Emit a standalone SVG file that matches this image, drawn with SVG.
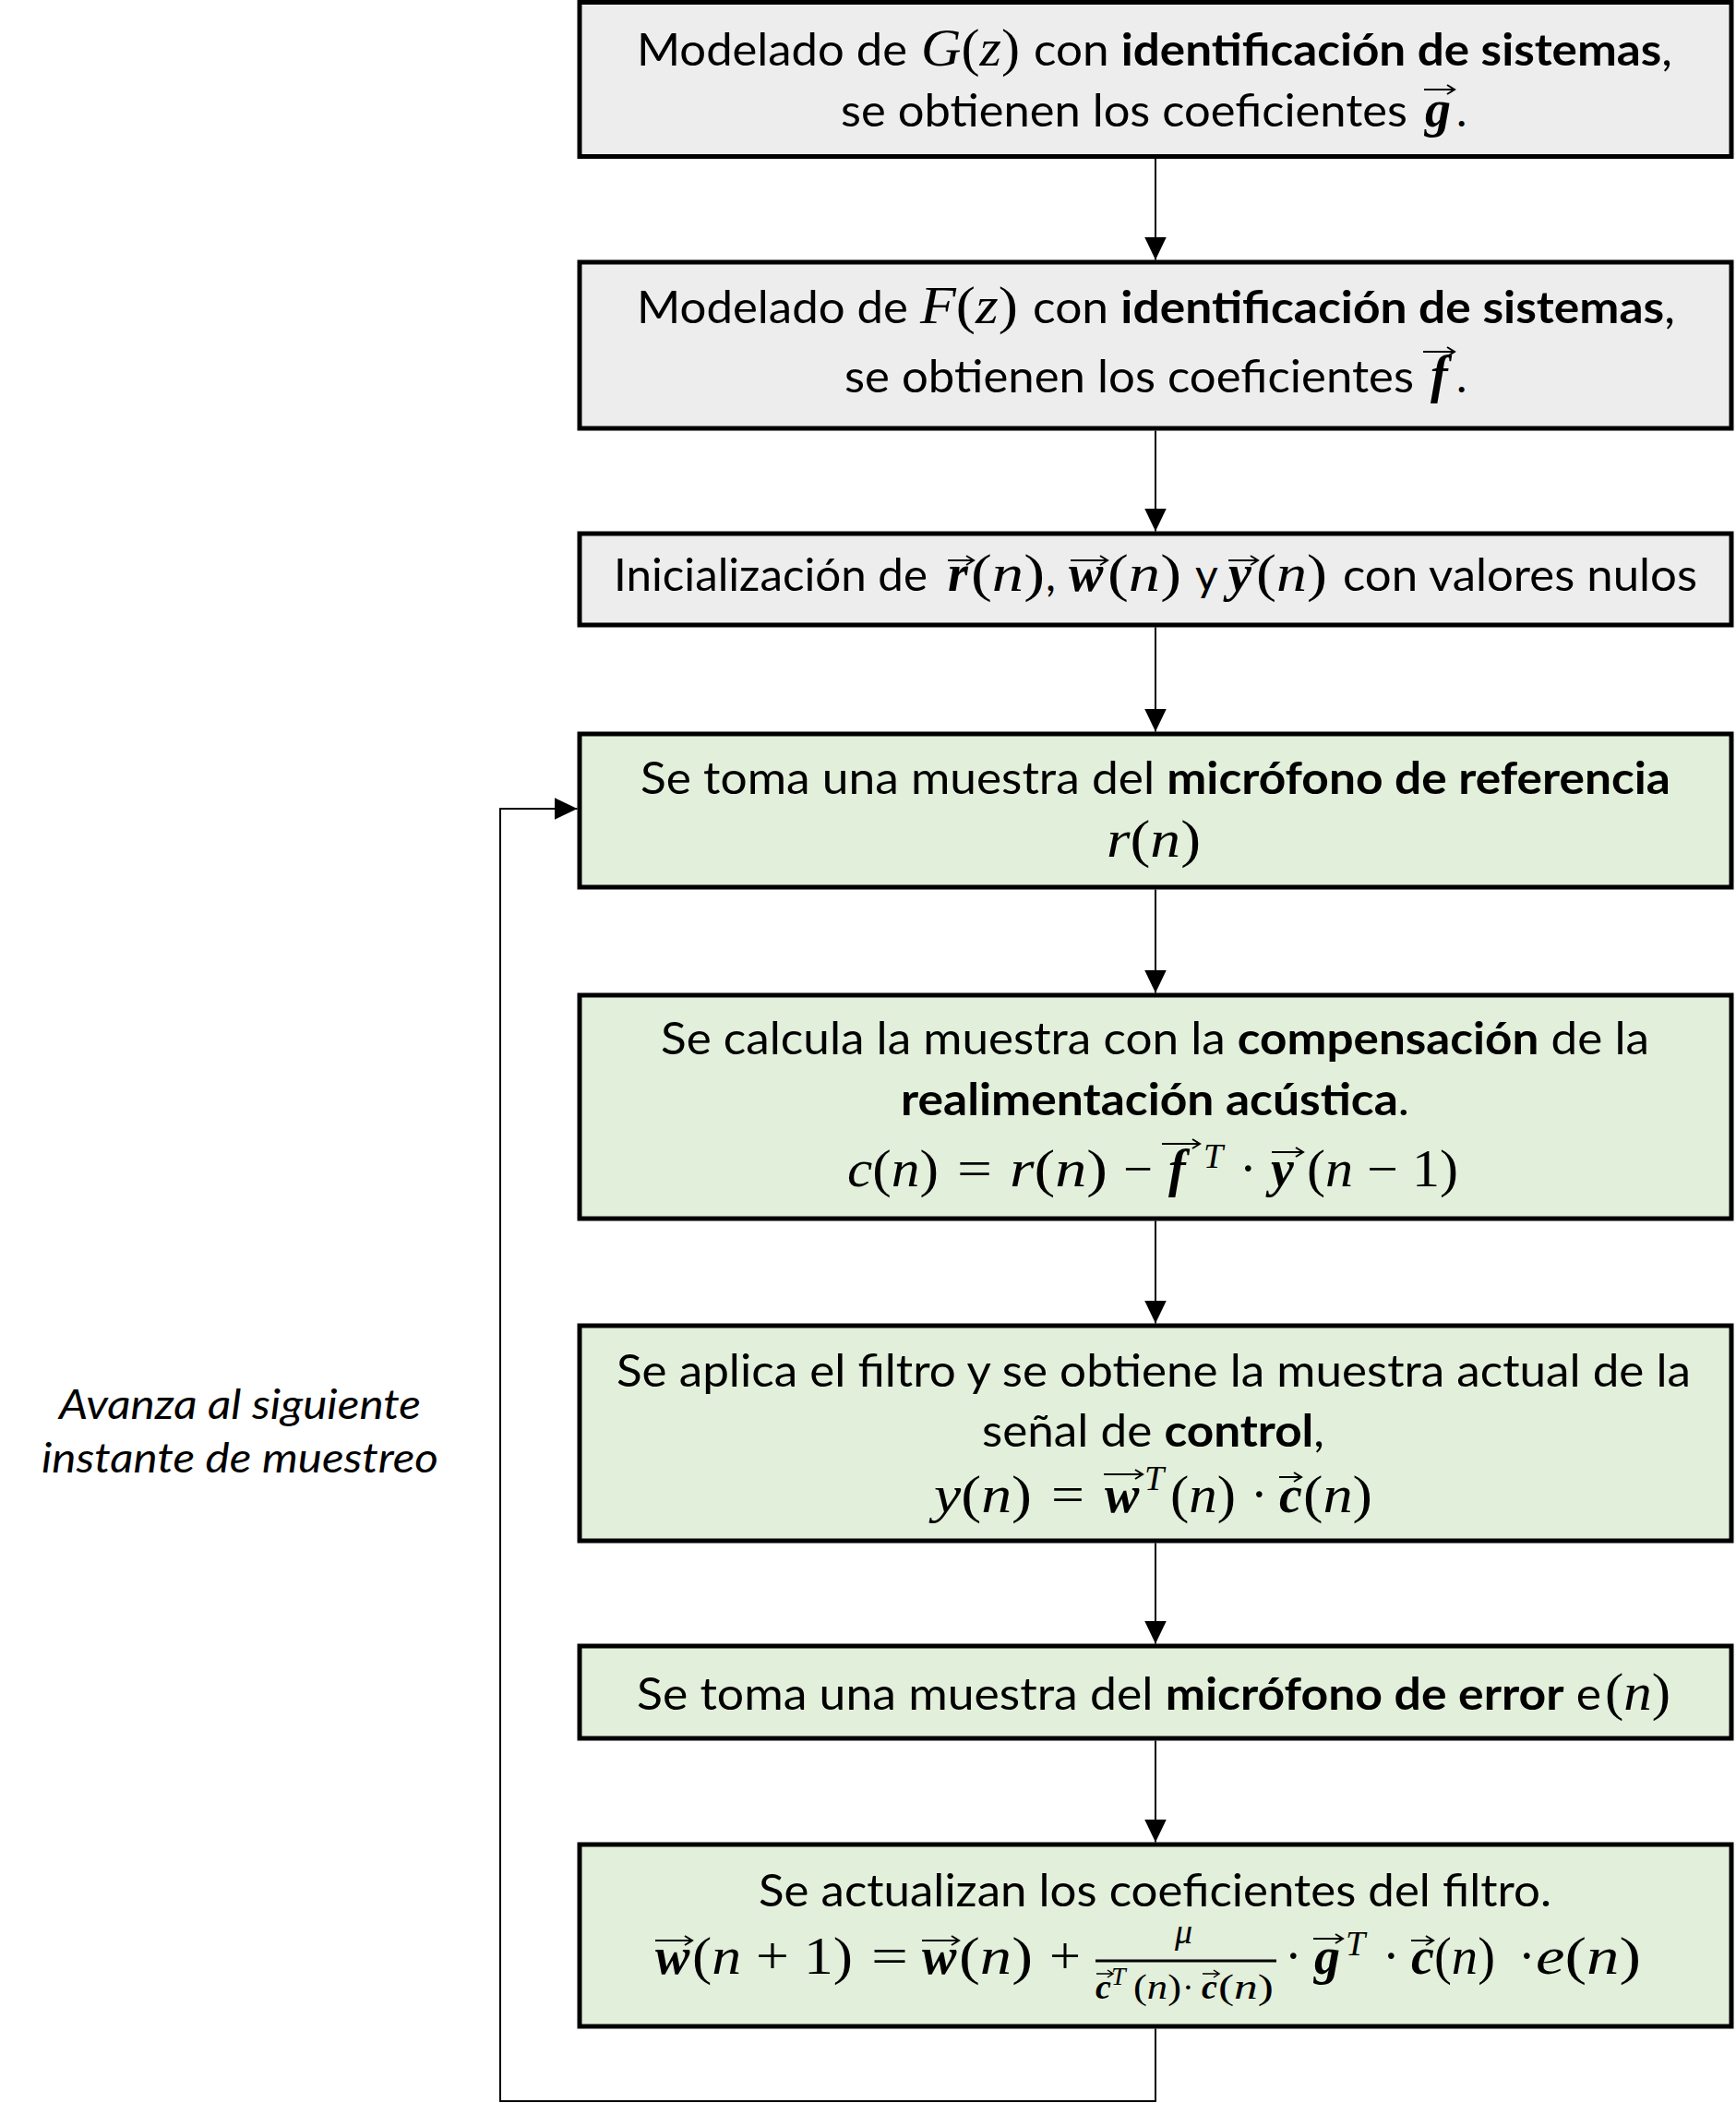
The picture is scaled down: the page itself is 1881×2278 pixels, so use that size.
<svg xmlns="http://www.w3.org/2000/svg" width="1881" height="2278" viewBox="0 0 1881 2278">
<style>
.bg{fill:#EDEDED;stroke:#000;stroke-width:5}
.bv{fill:#E2EFDA;stroke:#000;stroke-width:5}
.t{font-family:Lato,"Open Sans","Liberation Sans",sans-serif;font-size:48px;fill:#000}
.b{font-weight:700}
.m{font-family:"Liberation Serif","DejaVu Serif",serif;font-size:56px;font-style:italic;fill:#000}
.u{font-style:normal}
.vb{font-family:"Liberation Serif","DejaVu Serif",serif;font-size:56px;font-style:italic;font-weight:700;fill:#000}
.sup{font-family:"Liberation Serif","DejaVu Serif",serif;font-size:38px;font-style:italic;fill:#000}
.sm{font-size:38px}
.vec{fill:none;stroke:#000;stroke-width:2}
.con{fill:none;stroke:#000;stroke-width:2}
.lbl{font-family:Lato,"Open Sans","Liberation Sans",sans-serif;font-size:44px;font-style:italic;fill:#000}
</style>
<defs>
<marker id="ah" markerUnits="userSpaceOnUse" markerWidth="26" markerHeight="26" refX="25" refY="12" orient="auto">
<path d="M0,0 L25,12 L0,24 Z" fill="#000"/>
</marker>
</defs>

<g id="n1">
<rect class="bg" x="628" y="2.5" width="1248" height="167"/>
<text class="t" x="690" y="71" textLength="293" lengthAdjust="spacingAndGlyphs">Modelado de</text>
<text class="m" x="998" y="71" textLength="107" lengthAdjust="spacingAndGlyphs">G<tspan class="u">(</tspan>z<tspan class="u">)</tspan></text>
<text class="t" x="1120" y="71" textLength="692" lengthAdjust="spacingAndGlyphs">con <tspan class="b">identificación de sistemas</tspan>,</text>
<text class="t" x="911" y="137" textLength="614" lengthAdjust="spacingAndGlyphs">se obtienen los coeficientes</text>
<text class="vb" x="1544" y="137">g</text>
<path class="vec" d="M1543,97 H1576 M1568,92 L1576,97 L1568,102"/>
<text class="t" x="1578" y="137">.</text>
</g>

<g id="n2">
<rect class="bg" x="628" y="284" width="1248" height="180"/>
<text class="t" x="690" y="350" textLength="294" lengthAdjust="spacingAndGlyphs">Modelado de</text>
<text class="m" x="997" y="350" textLength="106" lengthAdjust="spacingAndGlyphs">F<tspan class="u">(</tspan>z<tspan class="u">)</tspan></text>
<text class="t" x="1119" y="350" textLength="696" lengthAdjust="spacingAndGlyphs">con <tspan class="b">identificación de sistemas</tspan>,</text>
<text class="t" x="915" y="425" textLength="617" lengthAdjust="spacingAndGlyphs">se obtienen los coeficientes</text>
<text class="vb" x="1550" y="425">f</text>
<path class="vec" d="M1542,381 H1576 M1568,376 L1576,381 L1568,386"/>
<text class="t" x="1578" y="425">.</text>
</g>

<g id="n3">
<rect class="bg" x="628" y="578" width="1248" height="99"/>
<text class="t" x="665" y="640" textLength="340" lengthAdjust="spacingAndGlyphs">Inicialización de</text>
<text class="vb" x="1027" y="640">r</text>
<path class="vec" d="M1027,607 H1055 M1047,602 L1055,607 L1047,612"/>
<text class="m" x="1052" y="640" textLength="80" lengthAdjust="spacingAndGlyphs"><tspan class="u">(</tspan>n<tspan class="u">)</tspan></text>
<text class="t" x="1133" y="640">,</text>
<text class="vb" x="1158" y="640">w</text>
<path class="vec" d="M1160,607 H1200 M1192,602 L1200,607 L1192,612"/>
<text class="m" x="1200" y="640" textLength="80" lengthAdjust="spacingAndGlyphs"><tspan class="u">(</tspan>n<tspan class="u">)</tspan></text>
<text class="t" x="1295" y="640">y</text>
<text class="vb" x="1331" y="640">y</text>
<path class="vec" d="M1331,607 H1363 M1355,602 L1363,607 L1355,612"/>
<text class="m" x="1361" y="640" textLength="77" lengthAdjust="spacingAndGlyphs"><tspan class="u">(</tspan>n<tspan class="u">)</tspan></text>
<text class="t" x="1455" y="640" textLength="384" lengthAdjust="spacingAndGlyphs">con valores nulos</text>
</g>

<g id="n4">
<rect class="bv" x="628" y="795" width="1248" height="166"/>
<text class="t" x="694" y="860" textLength="1116" lengthAdjust="spacingAndGlyphs">Se toma una muestra del <tspan class="b">micrófono de referencia</tspan></text>
<text class="m" x="1199" y="928" textLength="102" lengthAdjust="spacingAndGlyphs">r<tspan class="u">(</tspan>n<tspan class="u">)</tspan></text>
</g>

<g id="n5">
<rect class="bv" x="628" y="1078" width="1248" height="242"/>
<text class="t" x="716" y="1142" textLength="1071" lengthAdjust="spacingAndGlyphs">Se calcula la muestra con la <tspan class="b">compensación</tspan> de la</text>
<text class="t" x="976" y="1208" textLength="551" lengthAdjust="spacingAndGlyphs"><tspan class="b">realimentación acústica</tspan>.</text>
<text class="m" x="918" y="1285" textLength="99" lengthAdjust="spacingAndGlyphs">c<tspan class="u">(</tspan>n<tspan class="u">)</tspan></text>
<text class="m u" x="1037" y="1285" textLength="38" lengthAdjust="spacingAndGlyphs">=</text>
<text class="m" x="1094" y="1285" textLength="106" lengthAdjust="spacingAndGlyphs">r<tspan class="u">(</tspan>n<tspan class="u">)</tspan></text>
<text class="m u" x="1217" y="1285" textLength="32" lengthAdjust="spacingAndGlyphs">−</text>
<text class="vb" x="1266" y="1285">f</text>
<path class="vec" d="M1259,1239 H1300 M1292,1234 L1300,1239 L1292,1244"/>
<text class="sup" x="1304" y="1265">T</text>
<text class="m u" x="1343" y="1285">·</text>
<text class="vb" x="1377" y="1285">y</text>
<path class="vec" d="M1378,1248 H1412 M1404,1243 L1412,1248 L1404,1253"/>
<text class="m" x="1416" y="1285" textLength="164" lengthAdjust="spacingAndGlyphs"><tspan class="u">(</tspan>n<tspan class="u"> − 1)</tspan></text>
</g>

<g id="n6">
<rect class="bv" x="628" y="1436" width="1248" height="233"/>
<text class="t" x="668" y="1502" textLength="1164" lengthAdjust="spacingAndGlyphs">Se aplica el filtro y se obtiene la muestra actual de la</text>
<text class="t" x="1064" y="1567" textLength="371" lengthAdjust="spacingAndGlyphs">señal de <tspan class="b">control</tspan>,</text>
<text class="m" x="1012" y="1638" textLength="106" lengthAdjust="spacingAndGlyphs">y<tspan class="u">(</tspan>n<tspan class="u">)</tspan></text>
<text class="m u" x="1139" y="1638" textLength="36" lengthAdjust="spacingAndGlyphs">=</text>
<text class="vb" x="1197" y="1638">w</text>
<path class="vec" d="M1196,1597 H1238 M1230,1592 L1238,1597 L1230,1602"/>
<text class="sup" x="1240" y="1614">T</text>
<text class="m" x="1268" y="1638" textLength="71" lengthAdjust="spacingAndGlyphs"><tspan class="u">(</tspan>n<tspan class="u">)</tspan></text>
<text class="m u" x="1355" y="1638">·</text>
<text class="vb" x="1386" y="1638">c</text>
<path class="vec" d="M1386,1600 H1410 M1402,1595 L1410,1600 L1402,1605"/>
<text class="m" x="1412" y="1638" textLength="75" lengthAdjust="spacingAndGlyphs"><tspan class="u">(</tspan>n<tspan class="u">)</tspan></text>
</g>

<g id="n7">
<rect class="bv" x="628" y="1783" width="1248" height="100"/>
<text class="t" x="690" y="1852" textLength="1045" lengthAdjust="spacingAndGlyphs">Se toma una muestra del <tspan class="b">micrófono de error</tspan> e</text>
<text class="m" x="1739" y="1852" textLength="71" lengthAdjust="spacingAndGlyphs"><tspan class="u">(</tspan>n<tspan class="u">)</tspan></text>
</g>

<g id="n8">
<rect class="bv" x="628" y="1998" width="1248" height="197"/>
<text class="t" x="822" y="2065" textLength="859" lengthAdjust="spacingAndGlyphs">Se actualizan los coeficientes del filtro.</text>
<text class="vb" x="710" y="2138">w</text>
<path class="vec" d="M710,2102 H750 M742,2097 L750,2102 L742,2107"/>
<text class="m" x="750" y="2138" textLength="174" lengthAdjust="spacingAndGlyphs"><tspan class="u">(</tspan>n<tspan class="u"> + 1)</tspan></text>
<text class="m u" x="944" y="2138" textLength="40" lengthAdjust="spacingAndGlyphs">=</text>
<text class="vb" x="999" y="2138">w</text>
<path class="vec" d="M999,2102 H1039 M1031,2097 L1039,2102 L1031,2107"/>
<text class="m" x="1039" y="2138" textLength="80" lengthAdjust="spacingAndGlyphs"><tspan class="u">(</tspan>n<tspan class="u">)</tspan></text>
<text class="m u" x="1137" y="2138" textLength="34" lengthAdjust="spacingAndGlyphs">+</text>
<text class="m sm" x="1273" y="2105">μ</text>
<line class="con" x1="1187" y1="2124" x2="1383" y2="2124" style="stroke-width:3"/>
<text class="vb sm" x="1187" y="2165">c</text>
<path class="vec" d="M1188,2138 H1206 M1200,2134 L1206,2138 L1200,2142" style="stroke-width:1.5"/>
<text class="sup" x="1204" y="2150" style="font-size:28px">T</text>
<text class="m sm" x="1228" y="2165" textLength="52" lengthAdjust="spacingAndGlyphs"><tspan class="u">(</tspan>n<tspan class="u">)</tspan></text>
<text class="m u sm" x="1281" y="2165">·</text>
<text class="vb sm" x="1302" y="2165">c</text>
<path class="vec" d="M1303,2138 H1321 M1315,2134 L1321,2138 L1315,2142" style="stroke-width:1.5"/>
<text class="m sm" x="1320" y="2165" textLength="60" lengthAdjust="spacingAndGlyphs"><tspan class="u">(</tspan>n<tspan class="u">)</tspan></text>
<text class="m u" x="1392" y="2138">·</text>
<text class="vb" x="1424" y="2138">g</text>
<path class="vec" d="M1423,2100 H1455 M1447,2095 L1455,2100 L1447,2105"/>
<text class="sup" x="1458" y="2118">T</text>
<text class="m u" x="1498" y="2138">·</text>
<text class="vb" x="1529" y="2138">c</text>
<path class="vec" d="M1529,2102 H1553 M1545,2097 L1553,2102 L1545,2107"/>
<text class="m" x="1554" y="2138" textLength="66" lengthAdjust="spacingAndGlyphs"><tspan class="u">(</tspan>n<tspan class="u">)</tspan></text>
<text class="m u" x="1645" y="2138">·</text>
<text class="m" x="1664" y="2138" textLength="114" lengthAdjust="spacingAndGlyphs">e<tspan class="u">(</tspan>n<tspan class="u">)</tspan></text>
</g>

<g id="label">
<text class="lbl" x="260" y="1537" text-anchor="middle" textLength="392" lengthAdjust="spacingAndGlyphs">Avanza al siguiente</text>
<text class="lbl" x="260" y="1595" text-anchor="middle" textLength="430" lengthAdjust="spacingAndGlyphs">instante de muestreo</text>
</g>

<g id="connectors">
<path class="con" d="M1252,172 V281.5" marker-end="url(#ah)"/>
<path class="con" d="M1252,466.5 V575.5" marker-end="url(#ah)"/>
<path class="con" d="M1252,679.5 V792.5" marker-end="url(#ah)"/>
<path class="con" d="M1252,963.5 V1075.5" marker-end="url(#ah)"/>
<path class="con" d="M1252,1322.5 V1433.5" marker-end="url(#ah)"/>
<path class="con" d="M1252,1671.5 V1780.5" marker-end="url(#ah)"/>
<path class="con" d="M1252,1885.5 V1995.5" marker-end="url(#ah)"/>
<path class="con" d="M1252,2197.5 V2276 H542 V876 H625.5" marker-end="url(#ah)"/>
</g>
</svg>
